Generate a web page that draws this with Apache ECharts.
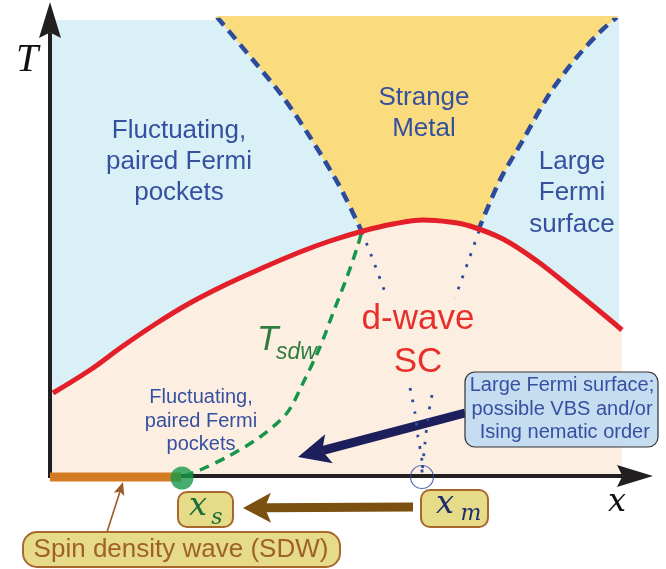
<!DOCTYPE html>
<html><head><meta charset="utf-8">
<script src="https://cdn.jsdelivr.net/npm/echarts@6/dist/echarts.min.js"></script>
<style>html,body{margin:0;padding:0;background:#fff}#c{width:666px;height:569px}</style>
</head><body><div id="c"></div>
<script>
// Schematic phase diagram: x = doping (arbitrary units 0..585), T = temperature (0..456)
const regionX = [2, 569];
const regionTop = 460;
const domeTc = [[3,83],[40,106],[73,130],[107,153],[140,173],[177,192],[210,207],[250,224],[280,235],[313,245],[343,252],[373,256],[400,254],[420,250],[453,237],[487,215],[520,189],[553,162],[572,146]];
const strangeLeft = [[167,459],[203,416],[233,379],[260,339],[290,289],[311,246]];
const strangeRight = [[428,245],[450,296],[473,336],[500,383],[527,419],[550,444],[567,459]];
const tSdw = [[134,0],[150,6],[177,19],[210,39],[237,63],[253,93],[270,129],[283,163],[297,199],[307,228],[312,245]];
const dotUpperLeft = [[312,244],[323,216],[336,181]];
const dotUpperRight = [[429,245],[418,214],[405,178]];
const dotLowerLeft = [[360,88],[365,63],[368,39],[372,13],[372,1]];
const dotLowerRight = [[382,81],[378,59],[375,33],[372,4]];
const sdwRange = [[0,-1],[131,-1]];
const xsPoint = [[132,-2]];
const xmPoint = [[372,-1]];
const axisXArrow = [[-2,0,603,0]];
const axisTArrow = [[0,-2,0,474]];
const navyArrow = [[415,63,248,19]];
const brownArrow = [[363,-31,193,-32]];
const sdwPointer = [[57,-56,73,-6]];

const chart = echarts.init(document.getElementById('c'));
const SANS = '"Liberation Sans", Arial, sans-serif';
const SERIF = '"Liberation Serif", "Times New Roman", serif';
const MATH = '"DejaVu Serif", serif';
const BLUE_TXT = '#3650a0';

function polygonRender(pts, fill) {
  return function (params, api) {
    return { type: 'polygon', shape: { points: pts.map(p => api.coord(p)) }, style: { fill: fill } };
  };
}
function arrowRender(color, lw, L, W, notchFrac) {
  const nf = notchFrac || 0.78;
  return function (params, api) {
    const a = api.coord([api.value(0), api.value(1)]);
    const b = api.coord([api.value(2), api.value(3)]);
    const dx = b[0] - a[0], dy = b[1] - a[1], len = Math.hypot(dx, dy);
    const ux = dx / len, uy = dy / len, nx = -uy, ny = ux;
    const base = [b[0] - ux * L, b[1] - uy * L];
    const notch = [b[0] - ux * L * nf, b[1] - uy * L * nf];
    return { type: 'group', children: [
      { type: 'line', shape: { x1: a[0], y1: a[1], x2: notch[0], y2: notch[1] }, style: { stroke: color, lineWidth: lw } },
      { type: 'polygon', shape: { points: [b, [base[0] + nx * W / 2, base[1] + ny * W / 2], notch, [base[0] - nx * W / 2, base[1] - ny * W / 2]] }, style: { fill: color } }
    ]};
  };
}
const yellowPoly = strangeLeft.concat(strangeRight).concat([[569,460],[165,460]]);

function txt(text, x, y, font, fill, lh, align) {
  return { type: 'text', z: 100, style: { text: text, x: x, y: y, font: font, fill: fill, align: align || 'center', verticalAlign: 'middle', lineHeight: lh } };
}
function box(x, y, w, h, r, fill, stroke, lw) {
  return { type: 'rect', z: 90, shape: { x: x, y: y, width: w, height: h, r: r }, style: { fill: fill, stroke: stroke, lineWidth: lw } };
}

const option = {
  animation: false,
  grid: { left: 50, top: 20, width: 585, height: 456, containLabel: false },
  xAxis: { type: 'value', min: 0, max: 585, axisLabel: { show: false }, axisTick: { show: false }, splitLine: { show: false }, axisLine: { show: false } },
  yAxis: { type: 'value', min: 0, max: 456, axisLabel: { show: false }, axisTick: { show: false }, splitLine: { show: false }, axisLine: { show: false } },
  series: [
    { type: 'line', data: [[regionX[0], regionTop], [regionX[1], regionTop]], symbol: 'none', lineStyle: { width: 0 }, areaStyle: { color: '#daf0f7', opacity: 1 }, z: 1 },
    { type: 'custom', data: [[0, 0]], renderItem: polygonRender(yellowPoly, '#fadc7e'), z: 1 },
    { type: 'line', data: domeTc, smooth: 0.35, symbol: 'none', lineStyle: { width: 0 }, areaStyle: { color: '#fdeee2', opacity: 1 }, z: 1 },
    { type: 'line', data: strangeLeft, smooth: 0.3, symbol: 'none', lineStyle: { color: '#2d4b9c', width: 4.5, type: [11, 7] }, z: 3 },
    { type: 'line', data: strangeRight, smooth: 0.3, symbol: 'none', lineStyle: { color: '#2d4b9c', width: 4.5, type: [11, 7] }, z: 3 },
    { type: 'line', data: tSdw, smooth: 0.3, symbol: 'none', lineStyle: { color: '#16964a', width: 3.5, type: [10, 7] }, z: 3 },
    { type: 'line', data: dotUpperLeft, smooth: 0.3, symbol: 'none', lineStyle: { color: '#2d4b9c', width: 2.8, type: [2.8, 9] }, z: 3 },
    { type: 'line', data: dotUpperRight, smooth: 0.3, symbol: 'none', lineStyle: { color: '#2d4b9c', width: 2.8, type: [2.8, 9] }, z: 3 },
    { type: 'line', data: domeTc, smooth: 0.35, symbol: 'none', lineStyle: { color: '#e3202a', width: 5 }, z: 4 },
    { type: 'custom', data: axisXArrow, renderItem: arrowRender('#231f20', 4, 36, 22, 0.85), z: 5, clip: false },
    { type: 'custom', data: axisTArrow, renderItem: arrowRender('#231f20', 4, 36, 22, 0.85), z: 5, clip: false },
    { type: 'custom', data: navyArrow, renderItem: arrowRender('#1c1f5c', 9, 32, 30), z: 5, clip: false },
    { type: 'line', data: dotLowerLeft, smooth: 0.3, symbol: 'none', lineStyle: { color: '#2d4b9c', width: 2.8, type: [2.8, 9] }, z: 6 },
    { type: 'line', data: dotLowerRight, smooth: 0.3, symbol: 'none', lineStyle: { color: '#2d4b9c', width: 2.8, type: [2.8, 9] }, z: 6 },
    { type: 'line', data: sdwRange, symbol: 'none', clip: false, lineStyle: { color: '#d37a22', width: 9 }, z: 6 },
    { type: 'scatter', data: xsPoint, symbolSize: 23, clip: false, itemStyle: { color: '#169a4a' }, z: 7 },
    { type: 'scatter', data: xmPoint, symbol: 'circle', symbolSize: 23, clip: false, itemStyle: { color: 'rgba(0,0,0,0)', borderColor: '#2d4b9c', borderWidth: 1.2 }, z: 7 },
    { type: 'custom', data: brownArrow, renderItem: arrowRender('#7b5011', 9, 28, 30), z: 5, clip: false },
    { type: 'custom', data: sdwPointer, renderItem: arrowRender('#9c5a26', 1.6, 13, 11), z: 5, clip: false }
  ],
  graphic: { elements: [
    txt('T', 27, 60, 'italic 40px ' + SERIF, '#111', 40),
    txt('x', 617, 503, 'italic 32px ' + MATH, '#111', 32),
    txt('Fluctuating,\npaired Fermi\npockets', 179, 162, '26px ' + SANS, BLUE_TXT, 31),
    txt('Strange\nMetal', 424, 113, '26px ' + SANS, BLUE_TXT, 31),
    txt('Large\nFermi\nsurface', 572, 193, '26px ' + SANS, BLUE_TXT, 31.5),
    txt('d-wave\nSC', 418, 341, '35px ' + SANS, '#e8302a', 43),
    txt('T', 257, 340, 'italic 35px ' + SANS, '#2e7d3e', 35, 'left'),
    txt('sdw', 276, 353, 'italic 23px ' + SANS, '#2e7d3e', 23, 'left'),
    txt('Fluctuating,\npaired Fermi\npockets', 201, 421, '20px ' + SANS, BLUE_TXT, 23.5),
    box(465, 372, 193, 75, 10, '#c6dcf1', '#333', 1.2),
    txt('Large Fermi surface;\npossible VBS and/or\n Ising nematic order', 562, 409, '20px ' + SANS, BLUE_TXT, 23.5),
    box(178, 492, 55, 35, 9, '#e5db89', '#a8682d', 2),
    txt('x', 198, 507, 'italic 32px ' + MATH, '#1b6e38', 32),
    txt('s', 217, 518, 'italic 22px ' + MATH, '#1b6e38', 22),
    box(421, 490, 67, 37, 9, '#e5db89', '#a8682d', 2),
    txt('x', 445, 505, 'italic 32px ' + MATH, '#1f2b6b', 32),
    txt('m', 471, 514, 'italic 22px ' + MATH, '#1f2b6b', 22),
    box(23, 532, 317, 35, 14, '#e5db89', '#a8682d', 2),
    txt('Spin density wave (SDW)', 181, 550, '26px ' + SANS, '#a0602a', 30)
  ]}
};
chart.setOption(option);
</script>
</body></html>
